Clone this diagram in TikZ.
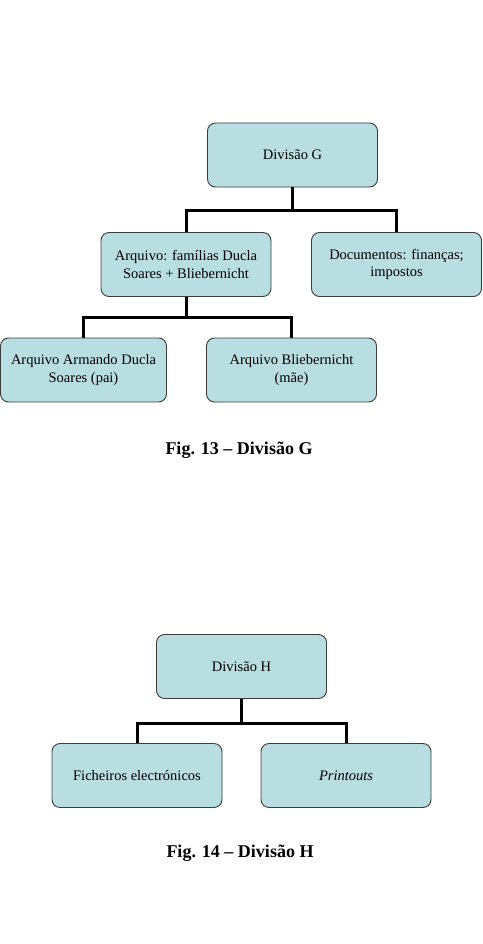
\documentclass[tikz,border=0pt]{standalone}
\usepackage{fontspec}
\setmainfont{Liberation Serif}
\definecolor{boxfill}{RGB}{185,222,225}
\definecolor{boxline}{RGB}{60,60,60}
\begin{document}
\begin{tikzpicture}[x=1pt,y=-1pt,
  orgbox/.style={draw=boxline, line width=0.9pt, fill=boxfill, rounded corners=8pt,
    minimum width=170pt, minimum height=64pt, inner sep=2pt, align=center,
    font=\fontsize{14.5}{17.5}\selectfont},
  conn/.style={line width=3pt, black},
  caption/.style={font=\fontsize{18}{21}\selectfont\bfseries}]
\useasboundingbox (0,0) rectangle (482,944);
% Figure 13
\node[orgbox] (g) at (292.5,155) {Divisão G};
\node[orgbox] (af) at (186,264.5) {Arquivo: famílias Ducla\\Soares + Bliebernicht};
\node[orgbox] (doc) at (396.5,264.5) {Documentos: finanças;\\impostos};
\node[orgbox, minimum width=166pt] (aad) at (83.5,370) {Arquivo Armando Ducla\\Soares (pai)};
\node[orgbox] (ab) at (291.5,370) {Arquivo Bliebernicht\\(mãe)};
\draw[conn] (g.south) -- ++(0,23) -| (af.north);
\draw[conn] (g.south) -- ++(0,23) -| (doc.north);
\draw[conn] (af.south) -- ++(0,21) -| (aad.north);
\draw[conn] (af.south) -- ++(0,21) -| (ab.north);
\node[caption] (c13) at (239,450) {Fig. 13 – Divisão G};
% Figure 14
\node[orgbox] (h) at (241.5,666.5) {Divisão H};
\node[orgbox] (fe) at (137,775.5) {Ficheiros electrónicos};
\node[orgbox] (pr) at (346,775.5) {\itshape Printouts};
\draw[conn] (h.south) -- ++(0,25) -| (fe.north);
\draw[conn] (h.south) -- ++(0,25) -| (pr.north);
\node[caption] (c14) at (240,853) {Fig. 14 – Divisão H};
\end{tikzpicture}
\end{document}
